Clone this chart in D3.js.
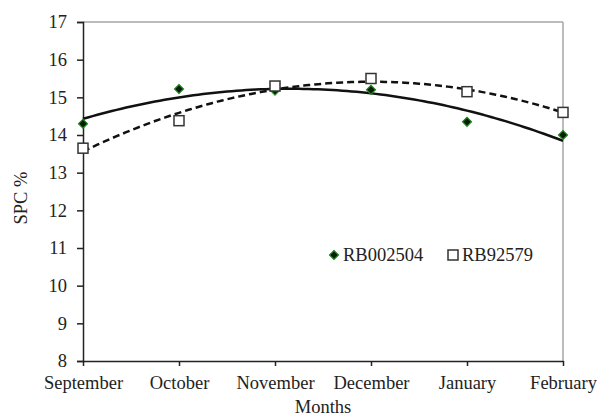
<!DOCTYPE html>
<html><head><meta charset="utf-8">
<script src="https://cdn.jsdelivr.net/npm/d3@7/dist/d3.min.js"></script>
<style>
html,body{margin:0;padding:0;background:#fff;}
text{font-family:"Liberation Serif","Times New Roman",serif;fill:#222;}
</style></head>
<body>
<svg id="chart" width="600" height="416"></svg>
<script>
const months = ["September","October","November","December","January","February"];
const seriesNames = ["RB002504","RB92579"];
const rb002504 = [14.3, 15.22, 15.18, 15.2, 14.35, 14.0];
const rb92579 = [13.65, 14.38, 15.3, 15.5, 15.15, 14.6];
const yTicks = [8,9,10,11,12,13,14,15,16,17];

(function(){
const svg = d3.select("#chart");
const pL = 83, pR = 563, pT = 22, pB = 361;
const fs = "18.5px";

const x = d3.scalePoint().domain(months).range([pL, pR]);
const y = d3.scaleLinear().domain([8,17]).range([pB, pT]);
const xi = d3.scaleLinear().domain([0, months.length-1]).range([pL, pR]);

// gray frame top/right
svg.append("line").attr("x1",pL).attr("x2",pR).attr("y1",pT).attr("y2",pT)
  .attr("stroke","#a6a6a6").attr("stroke-width",1.5);
svg.append("line").attr("x1",pR).attr("x2",pR).attr("y1",pT).attr("y2",pB)
  .attr("stroke","#a6a6a6").attr("stroke-width",1.5);

// y axis
const ya = svg.append("g").attr("transform",`translate(${pL},0)`)
  .call(d3.axisLeft(y).tickValues(yTicks).tickSize(6).tickPadding(10).tickFormat(d3.format("d")));
ya.select(".domain").attr("stroke","#222").attr("stroke-width",1.5);
ya.selectAll(".tick line").attr("stroke","#222").attr("stroke-width",1.5);
ya.selectAll("text").style("font-size",fs).style("font-family","Liberation Serif").attr("fill","#222");

// x axis
const xa = svg.append("g").attr("transform",`translate(0,${pB})`)
  .call(d3.axisBottom(x).tickSize(5).tickPadding(10).tickSizeOuter(0));
xa.select(".domain").attr("stroke","#222").attr("stroke-width",1.5);
xa.selectAll(".tick line").attr("stroke","#222").attr("stroke-width",1.5);
xa.selectAll("text").style("font-size",fs).style("font-family","Liberation Serif").attr("fill","#222");

// axis titles
svg.append("text").attr("x",(pL+pR)/2).attr("y",413).attr("text-anchor","middle")
  .style("font-size",fs).text("Months");
svg.append("text").attr("transform","translate(27,198) rotate(-90)").attr("text-anchor","middle")
  .style("font-size",fs).text("SPC %");

// quadratic least squares trendline
function quadFit(vals){
  let s=[0,0,0,0,0], t=[0,0,0];
  vals.forEach((v,i)=>{
    for(let k=0;k<5;k++) s[k]+=Math.pow(i,k);
    for(let k=0;k<3;k++) t[k]+=v*Math.pow(i,k);
  });
  const A=[[s[0],s[1],s[2]],[s[1],s[2],s[3]],[s[2],s[3],s[4]]];
  const b=t.slice();
  for(let c=0;c<3;c++){
    for(let r=c+1;r<3;r++){
      const f=A[r][c]/A[c][c];
      for(let k=c;k<3;k++) A[r][k]-=f*A[c][k];
      b[r]-=f*b[c];
    }
  }
  const co=[0,0,0];
  for(let r=2;r>=0;r--){
    let sum=b[r];
    for(let k=r+1;k<3;k++) sum-=A[r][k]*co[k];
    co[r]=sum/A[r][r];
  }
  return xx=>co[0]+co[1]*xx+co[2]*xx*xx;
}
const line = d3.line().x(d=>xi(d[0])).y(d=>y(d[1]));
function trend(vals){
  const f = quadFit(vals);
  const pts = d3.range(0, months.length-1+0.0001, 0.05).map(t=>[t,f(t)]);
  return line(pts);
}
svg.append("path").attr("d",trend(rb92579)).attr("fill","none")
  .attr("stroke","#111").attr("stroke-width",2.5).attr("stroke-dasharray","7,4");
svg.append("path").attr("d",trend(rb002504)).attr("fill","none")
  .attr("stroke","#111").attr("stroke-width",2.5);

// markers
const diamond = d3.symbol().type(d3.symbolSquare).size(40);
svg.selectAll(".dia").data(rb002504).join("path")
  .attr("transform",(d,i)=>`translate(${x(months[i])},${y(d)}) rotate(45)`)
  .attr("d",diamond).attr("fill","#0b1a0b").attr("stroke","#1a8a1a").attr("stroke-width",1.2);
svg.selectAll(".sq").data(rb92579).join("rect")
  .attr("x",(d,i)=>x(months[i])-5).attr("y",d=>y(d)-5).attr("width",10).attr("height",10)
  .attr("fill","#fff").attr("stroke","#333").attr("stroke-width",1.5);

// legend
const lg = svg.append("g");
lg.append("path").attr("transform","translate(334,255) rotate(45)").attr("d",diamond)
  .attr("fill","#0b1a0b").attr("stroke","#1a8a1a").attr("stroke-width",1.2);
lg.append("text").attr("x",343).attr("y",261).style("font-size",fs).text(seriesNames[0]);
lg.append("rect").attr("x",448).attr("y",250).attr("width",10).attr("height",10)
  .attr("fill","#fff").attr("stroke","#333").attr("stroke-width",1.5);
lg.append("text").attr("x",462).attr("y",261).style("font-size",fs).text(seriesNames[1]);
})();
</script>
</body></html>
